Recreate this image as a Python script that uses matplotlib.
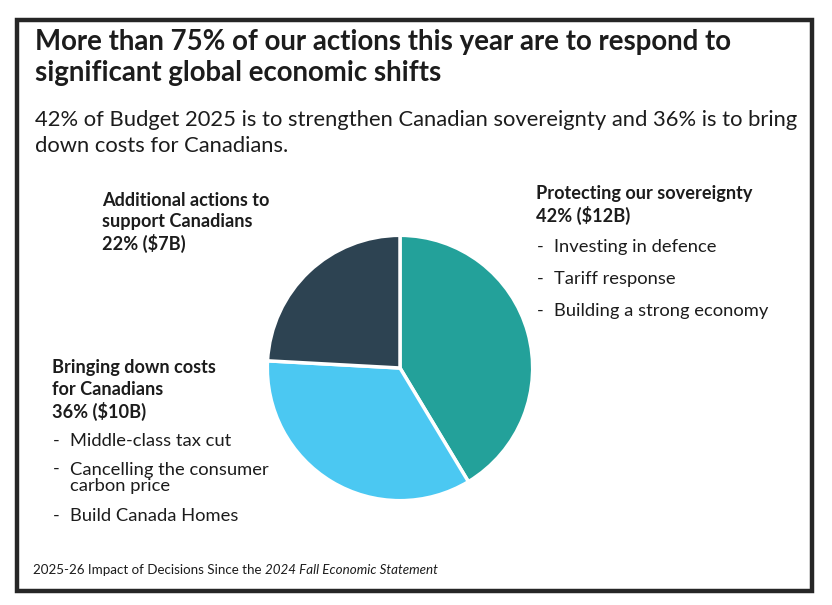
import matplotlib
matplotlib.use("Agg")
import matplotlib.pyplot as plt
from matplotlib.patches import Rectangle

plt.rcParams['font.family'] = ['Lato', 'DejaVu Sans']

W, H = 832, 605

title_lines = ["More than 75% of our actions this year are to respond to",
               "significant global economic shifts"]
subtitle_lines = ["42% of Budget 2025 is to strengthen Canadian sovereignty and 36% is to bring",
                  "down costs for Canadians."]

categories = ["Protecting our sovereignty", "Bringing down costs for Canadians",
              "Additional actions to support Canadians"]
values = [12, 10, 7]  # $B
shares = ["42%", "36%", "22%"]
colors = ["#23a19a", "#4bc8f2", "#2d4352"]

sov_items = ["Investing in defence", "Tariff response", "Building a strong economy"]
cost_items = ["Middle-class tax cut", "Cancelling the consumer\ncarbon price", "Build Canada Homes"]

txt = "#1c1c1c"


def px(x, y):
    return x / W, 1 - y / H


fig = plt.figure(figsize=(W / 100, H / 100), dpi=100)

# frame
fig.patches.append(Rectangle(px(17, 591), 795 / W, 571 / H, transform=fig.transFigure,
                             fill=False, edgecolor="#262626", linewidth=3.2))

for i, line in enumerate(title_lines):
    fig.text(*px(35, 42 + i * 31), line, fontsize=19.9, weight="bold", color=txt, va="center")
for i, line in enumerate(subtitle_lines):
    fig.text(*px(35, 120 + i * 26), line, fontsize=15.8, color=txt, va="center")

# pie
ax = fig.add_axes([266 / W, 1 - 502 / H, 268 / W, 268 / H])
ax.pie(values, colors=colors, startangle=90, counterclock=False,
       wedgeprops=dict(edgecolor="white", linewidth=2.5))
ax.set_xlim(-1.01, 1.01)
ax.set_ylim(-1.01, 1.01)
ax.set_aspect("equal")
ax.axis("off")

lab = dict(fontsize=13.1, weight="bold", color=txt, va="center")
item = dict(fontsize=13.2, color=txt, va="center")

# right label
fig.text(*px(536, 193), "Protecting our sovereignty", **lab)
fig.text(*px(536, 215), f"{shares[0]} (${values[0]}B)", **lab)
for i, s in enumerate(sov_items):
    y = 247 + i * 32
    fig.text(*px(537, y), "-", **item)
    fig.text(*px(554, y), s, **item)

# top-left label
for i, s in enumerate(["Additional actions to", "support Canadians",
                       f"{shares[2]} (${values[2]}B)"]):
    fig.text(*px(102, 200 + i * 21.5), s, **lab)

# bottom-left label
for i, s in enumerate(["Bringing down costs", "for Canadians",
                       f"{shares[1]} (${values[1]}B)"]):
    fig.text(*px(52, 368 + i * 21.5), s, **lab)
for y, s in zip([441, 478, 516], cost_items):
    fig.text(*px(53, y - (9.5 if "\n" in s else 0)), "-", **item)
    fig.text(*px(70, y), s, linespacing=1.0, **item)

# footer
t1 = fig.text(*px(33, 570), "2025-26 Impact of Decisions Since the ", fontsize=9.65,
              color=txt, va="center")
fig.canvas.draw()
bb = t1.get_window_extent()
fig.text(bb.x1 / W, 1 - 570 / H, "2024 Fall Economic Statement", fontsize=9.65,
         style="italic", color=txt, va="center")

fig.savefig("out.png", dpi=100)
